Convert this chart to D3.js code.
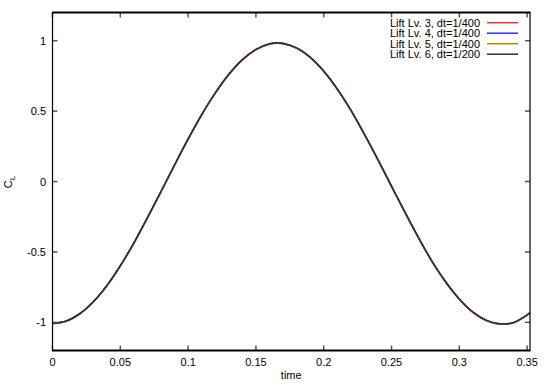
<!DOCTYPE html>
<html><head><meta charset="utf-8">
<script src="https://cdn.jsdelivr.net/npm/d3@7"></script>
<style>body{margin:0;background:#fff}svg{display:block}text{font-family:"Liberation Sans",Arial,sans-serif}</style>
</head><body><svg id="c" width="550" height="385"></svg>
<script>
const times = [0,0.01,0.02,0.03,0.04,0.05,0.06,0.07,0.08,0.09,0.10,0.11,0.12,0.13,0.14,0.15,0.16,0.166,0.17,0.18,0.19,0.20,0.21,0.22,0.23,0.24,0.25,0.26,0.27,0.28,0.29,0.30,0.31,0.32,0.33,0.34,0.35,0.352];
const lv3 = [-1.010,-0.993,-0.942,-0.857,-0.743,-0.601,-0.439,-0.260,-0.074,0.115,0.299,0.472,0.626,0.758,0.863,0.935,0.975,0.981,0.978,0.946,0.880,0.781,0.654,0.504,0.333,0.152,-0.036,-0.223,-0.403,-0.572,-0.716,-0.837,-0.930,-0.989,-1.013,-1.003,-0.949,-0.934];
const lv4 = [-1.008,-0.992,-0.940,-0.855,-0.741,-0.599,-0.437,-0.258,-0.072,0.117,0.301,0.474,0.628,0.760,0.865,0.937,0.977,0.983,0.980,0.948,0.882,0.783,0.656,0.506,0.335,0.154,-0.034,-0.221,-0.401,-0.570,-0.714,-0.835,-0.928,-0.987,-1.012,-1.002,-0.948,-0.932];
const lv5 = [-1.008,-0.992,-0.940,-0.855,-0.741,-0.599,-0.437,-0.258,-0.072,0.117,0.301,0.474,0.628,0.760,0.865,0.937,0.977,0.984,0.980,0.948,0.882,0.783,0.656,0.506,0.335,0.154,-0.034,-0.221,-0.401,-0.570,-0.714,-0.835,-0.928,-0.987,-1.012,-1.002,-0.948,-0.932];
const lv6 = [-1.008,-0.991,-0.939,-0.854,-0.740,-0.598,-0.436,-0.257,-0.071,0.118,0.302,0.475,0.629,0.761,0.866,0.938,0.978,0.984,0.981,0.949,0.883,0.784,0.657,0.507,0.336,0.155,-0.033,-0.220,-0.400,-0.569,-0.713,-0.834,-0.927,-0.986,-1.011,-1.001,-0.947,-0.931];
const seriesNames = ["Lift Lv. 3, dt=1/400","Lift Lv. 4, dt=1/400","Lift Lv. 5, dt=1/400","Lift Lv. 6, dt=1/200"];
const seriesColors = ["#ff3030","#3030ff","#c08000","#303030"];
const xTicks = [0,0.05,0.1,0.15,0.2,0.25,0.3,0.35];
const yTicks = [-1,-0.5,0,0.5,1];

const svg = d3.select("#c");
const L=52.5,R=530,T=12.5,B=350.5;
const x = d3.scaleLinear().domain([0,0.3521]).range([L,R]);
const y = d3.scaleLinear().domain([-1.2,1.2]).range([B,T]);

const series=[lv3,lv4,lv5,lv6];
const line = d3.line().x((d,i)=>x(times[i])).y(d=>y(d)).curve(d3.curveCatmullRom);
const g = svg.append("g");
series.forEach((s,k)=>{
  g.append("path").datum(s).attr("d",line).attr("fill","none")
   .attr("stroke",seriesColors[k]).attr("stroke-width",k===3?1.6:1.5);
});

const fmt = d=>String(d);
const tc="#555";
xTicks.forEach(t=>{
  svg.append("line").attr("x1",x(t)).attr("x2",x(t)).attr("y1",B).attr("y2",B-5).attr("stroke",tc).attr("stroke-width",1.5);
  svg.append("line").attr("x1",x(t)).attr("x2",x(t)).attr("y1",T).attr("y2",T+5).attr("stroke",tc).attr("stroke-width",1.5);
  svg.append("text").attr("x",x(t)).attr("y",366).attr("text-anchor","middle").attr("font-size",11).text(fmt(t));
});
yTicks.forEach(t=>{
  svg.append("line").attr("x1",L).attr("x2",L+5).attr("y1",y(t)).attr("y2",y(t)).attr("stroke",tc).attr("stroke-width",1.5);
  svg.append("line").attr("x1",R).attr("x2",R-5).attr("y1",y(t)).attr("y2",y(t)).attr("stroke",tc).attr("stroke-width",1.5);
  svg.append("text").attr("x",46).attr("y",y(t)+4).attr("text-anchor","end").attr("font-size",11).text(fmt(t));
});
svg.append("line").attr("x1",L-0.5).attr("x2",R+0.5).attr("y1",T).attr("y2",T).attr("stroke","#000").attr("stroke-width",2);
svg.append("line").attr("x1",L-0.5).attr("x2",R+0.5).attr("y1",B).attr("y2",B).attr("stroke","#000").attr("stroke-width",2);
svg.append("line").attr("x1",L).attr("x2",L).attr("y1",T).attr("y2",B).attr("stroke","#000").attr("stroke-width",1.2);
svg.append("line").attr("x1",R).attr("x2",R).attr("y1",T).attr("y2",B).attr("stroke","#000").attr("stroke-width",1.2);

svg.append("text").attr("x",(L+R)/2).attr("y",379).attr("text-anchor","middle").attr("font-size",11).text("time");
const yl = svg.append("text").attr("transform","translate(12,182) rotate(-90)").attr("text-anchor","middle").attr("font-size",11);
yl.append("tspan").text("C");
yl.append("tspan").attr("font-size",8).attr("dy",3).text("L");

seriesNames.forEach((n,k)=>{
  const ly = 22.7 + k*10.5;
  svg.append("text").attr("x",480).attr("y",ly+4).attr("text-anchor","end").attr("font-size",11).text(n);
  svg.append("line").attr("x1",487).attr("x2",518).attr("y1",ly).attr("y2",ly).attr("stroke",seriesColors[k]).attr("stroke-width",1.5);
});
</script></body></html>
